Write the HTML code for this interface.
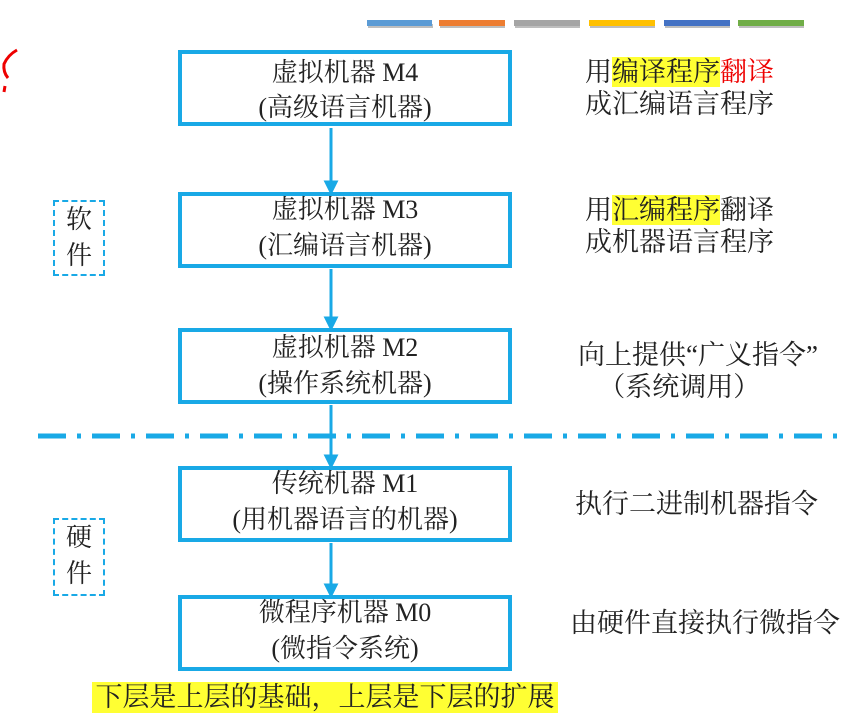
<!DOCTYPE html>
<html><head><meta charset="utf-8"><style>
body{margin:0;width:848px;height:713px;background:#fff;position:relative;overflow:hidden;font-family:"Liberation Serif","Noto Serif CJK SC",serif;color:#222}
.a{position:absolute;white-space:nowrap}
.box{position:absolute;left:178px;width:326px;border:4px solid #19a9e6;height:68px}
.bt{position:absolute;left:0;width:100%;text-align:center;font-size:26px;line-height:30px}
.r{position:absolute;font-size:27px;line-height:32px;white-space:nowrap}
.y{background:#ffff33}
.lab{position:absolute;left:53px;width:48px;border:2px dashed #19a9e6;font-size:26px;text-align:center;line-height:36px}
</style></head><body>
<svg class="a" style="left:0;top:0" width="848" height="713">
<g fill="#000" opacity=".25"><rect x="368" y="24" width="65" height="4"/><rect x="440" y="24" width="65" height="4"/><rect x="515" y="24" width="65" height="4"/><rect x="590" y="24" width="65" height="4"/><rect x="665" y="24" width="65" height="4"/><rect x="739" y="24" width="65" height="4"/></g>
<rect x="367" y="20" width="65" height="6" fill="#5b9bd5"/>
<rect x="439" y="20" width="66" height="6" fill="#ed7d31"/>
<rect x="514" y="20" width="66" height="6" fill="#a5a5a5"/>
<rect x="589" y="20" width="66" height="6" fill="#ffc000"/>
<rect x="664" y="20" width="66" height="6" fill="#4472c4"/>
<rect x="738" y="20" width="66" height="6" fill="#70ad47"/>
<path d="M17 50 Q8 55 4 64 Q3 72 8 78 M5 86 L4 92" stroke="#e00" stroke-width="3" fill="none"/>
<g stroke="#19a9e6" stroke-width="3" fill="#19a9e6">
<line x1="331" y1="128" x2="331" y2="186"/><path d="M326 182 L331 192 L336 182Z"/>
<line x1="331" y1="269" x2="331" y2="322"/><path d="M326 318 L331 328 L336 318Z"/>
<line x1="331" y1="405" x2="331" y2="460"/><path d="M326 456 L331 466 L336 456Z"/>
<line x1="331" y1="543" x2="331" y2="589"/><path d="M326 585 L331 595 L336 585Z"/>
</g>
<line x1="38" y1="436" x2="848" y2="436" stroke="#19a9e6" stroke-width="5" stroke-dasharray="28 11 4 11"/>
</svg>
<div class="box" style="top:50px"><div class="bt" style="top:4px">虚拟机器 M4</div><div class="bt" style="top:39px">(高级语言机器)</div></div>
<div class="box" style="top:192px"><div class="bt" style="top:-1px">虚拟机器 M3</div><div class="bt" style="top:35px">(汇编语言机器)</div></div>
<div class="box" style="top:328px"><div class="bt" style="top:1px">虚拟机器 M2</div><div class="bt" style="top:37px">(操作系统机器)</div></div>
<div class="box" style="top:466px"><div class="bt" style="top:-1px">传统机器 M1</div><div class="bt" style="top:35px">(用机器语言的机器)</div></div>
<div class="box" style="top:595px"><div class="bt" style="top:-1px">微程序机器 M0</div><div class="bt" style="top:35px">(微指令系统)</div></div>
<div class="lab" style="top:200px;height:72px">软<br>件</div>
<div class="lab" style="top:518px;height:74px">硬<br>件</div>
<div class="r" style="left:585px;top:56px">用<span class="y">编译程序</span><span style="color:#e00">翻译</span><br>成汇编语言程序</div>
<div class="r" style="left:585px;top:194px">用<span class="y">汇编程序</span>翻译<br>成机器语言程序</div>
<div class="r" style="left:578px;top:339px">向上提供“广义指令”<br>&nbsp;&nbsp;&nbsp;（系统调用）</div>
<div class="r" style="left:575px;top:488px">执行二进制机器指令</div>
<div class="r" style="left:570px;top:607px">由硬件直接执行微指令</div>
<div class="a y" style="left:92px;top:682px;width:466px;height:31px;font-size:27px;line-height:31px;text-align:center;overflow:hidden">下层是上层的基础，上层是下层的扩展</div>
</body></html>
